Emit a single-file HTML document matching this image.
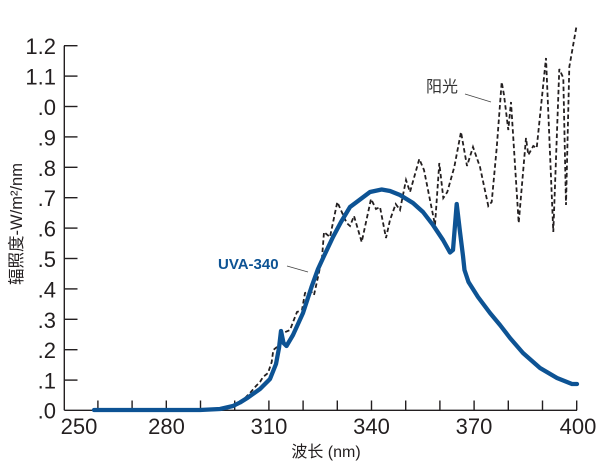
<!DOCTYPE html>
<html><head><meta charset="utf-8"><style>
html,body{margin:0;padding:0;background:#fff;}
svg{display:block;}
text{font-family:"Liberation Sans","Noto Sans CJK SC",sans-serif;fill:#231f20;}
</style></head><body>
<svg width="608" height="462" viewBox="0 0 608 462" xmlns="http://www.w3.org/2000/svg">
<!-- axes -->
<g stroke="#231f20" stroke-width="1.4" fill="none">
<line x1="64.3" y1="45.7" x2="64.3" y2="410.3"/>
<line x1="64.3" y1="410.3" x2="577" y2="410.3"/>
<!-- y ticks -->
<line x1="64" y1="45.7" x2="77.5" y2="45.7"/>
<line x1="64" y1="76.1" x2="77.5" y2="76.1"/>
<line x1="64" y1="106.5" x2="77.5" y2="106.5"/>
<line x1="64" y1="136.9" x2="77.5" y2="136.9"/>
<line x1="64" y1="167.3" x2="77.5" y2="167.3"/>
<line x1="64" y1="197.7" x2="77.5" y2="197.7"/>
<line x1="64" y1="228.1" x2="77.5" y2="228.1"/>
<line x1="64" y1="258.5" x2="77.5" y2="258.5"/>
<line x1="64" y1="288.9" x2="77.5" y2="288.9"/>
<line x1="64" y1="319.3" x2="77.5" y2="319.3"/>
<line x1="64" y1="349.7" x2="77.5" y2="349.7"/>
<line x1="64" y1="380.1" x2="77.5" y2="380.1"/>
<!-- x ticks -->
<line x1="97.9" y1="400.5" x2="97.9" y2="410.3"/>
<line x1="132.1" y1="400.5" x2="132.1" y2="410.3"/>
<line x1="166.3" y1="400.5" x2="166.3" y2="410.3"/>
<line x1="200.5" y1="400.5" x2="200.5" y2="410.3"/>
<line x1="234.7" y1="400.5" x2="234.7" y2="410.3"/>
<line x1="268.9" y1="400.5" x2="268.9" y2="410.3"/>
<line x1="303.1" y1="400.5" x2="303.1" y2="410.3"/>
<line x1="337.3" y1="400.5" x2="337.3" y2="410.3"/>
<line x1="371.5" y1="400.5" x2="371.5" y2="410.3"/>
<line x1="405.7" y1="400.5" x2="405.7" y2="410.3"/>
<line x1="439.9" y1="400.5" x2="439.9" y2="410.3"/>
<line x1="474.1" y1="400.5" x2="474.1" y2="410.3"/>
<line x1="508.3" y1="400.5" x2="508.3" y2="410.3"/>
<line x1="542.5" y1="400.5" x2="542.5" y2="410.3"/>
<line x1="576.7" y1="400.5" x2="576.7" y2="410.3"/>
</g>
<!-- y labels -->
<g font-size="22" text-anchor="end">
<text x="56" y="54">1.2</text>
<text x="56" y="84.5">1.1</text>
<text x="56" y="115">.0</text>
<text x="56" y="145.4">.9</text>
<text x="56" y="175.8">.8</text>
<text x="56" y="206.2">.7</text>
<text x="56" y="236.6">.6</text>
<text x="56" y="267">.5</text>
<text x="56" y="297.4">.4</text>
<text x="56" y="327.8">.3</text>
<text x="56" y="358.2">.2</text>
<text x="56" y="388.6">.1</text>
<text x="56" y="418.5">.0</text>
</g>
<!-- x labels -->
<g font-size="22" text-anchor="middle">
<text x="79" y="434">250</text>
<text x="166.5" y="434">280</text>
<text x="269" y="434">310</text>
<text x="371.5" y="434">340</text>
<text x="474" y="434">370</text>
<text x="578" y="434">400</text>
</g>
<text x="326" y="457" font-size="16" text-anchor="middle">波长 (nm)</text>
<text transform="translate(22,224) rotate(-90)" font-size="16.5" text-anchor="middle">辐照度-W/m²/nm</text>

<!-- sunlight dashed -->
<polyline fill="none" stroke="#231f20" stroke-width="1.8" stroke-dasharray="4.5,2.8" points="245,398 250,393 256,386 260,382 263,377 268,373 271.7,362 273.3,350 277,347 283,333 290,330 295,317 297,312 302,310 305,293 310.7,291 314,295 318,277 322,258 324,232 330,237 337.3,202 346.7,223 350,226 354,216 361.7,242 371,199 376,209 380,207 386,238 390,220 395.7,204 400,210 406,180 410,192 419.3,159 424,170 435,225 439.3,163 443.3,198 447.3,192 454.3,167 461,132 467,166 473,147 480,167 488.3,206 491.7,202 496.7,148 501.7,82 504,95 508.3,130 511,102 518.7,223 526,138 528.3,155 533.3,146 536.7,148 546,58 553.3,232 559.3,69 563.3,78 566,205 569.3,67 576.7,25"/>

<!-- UVA-340 -->
<polyline fill="none" stroke="#0d5394" stroke-width="4.3" stroke-linejoin="round" stroke-linecap="round" points="94,410 200,410 220,409 233,406 240,402.5 248,397.5 260,389 270,379 276,364 279,348 281,331 283.5,343 286.5,346 293,335 303,313 311.5,287 318,269 324,256 333,237 341,222 350,207 356.7,202 370,192 381.7,189.5 390,191 400,195 413,203 423,212 433,225 443,240 450,252.5 453,250 456.7,204 460,232 463,256 464.5,270 468.5,282 478,297 490,313 500,325 510,338 523,353 540,368 557,378 572,384 577,384"/>

<!-- annotations -->
<text x="218" y="269" font-size="15" font-weight="bold" style="fill:#0d5394">UVA-340</text>
<line x1="287" y1="266" x2="308" y2="272" stroke="#444" stroke-width="0.9"/>
<text x="426" y="92" font-size="16" style="fill:#333">阳光</text>
<line x1="465" y1="94" x2="491" y2="102" stroke="#444" stroke-width="0.9"/>
</svg>
</body></html>
